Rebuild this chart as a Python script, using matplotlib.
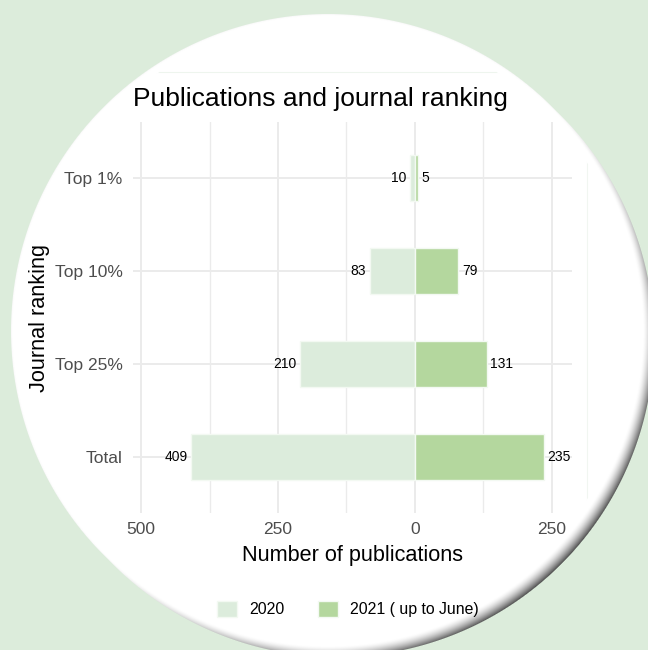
import numpy as np
import matplotlib
matplotlib.use("Agg")
import matplotlib.pyplot as plt
from matplotlib.patches import Circle

plt.rcParams['font.family'] = ['Liberation Sans', 'DejaVu Sans']

# data
rankings = ["Top 1%", "Top 10%", "Top 25%", "Total"]
pubs_2020 = [10, 83, 210, 409]
pubs_2021 = [5, 79, 131, 235]
series_names = ["2020", "2021 ( up to June)"]
x_ticks = [-500, -250, 0, 250]
x_ticklabels = ["500", "250", "0", "250"]
x_minor = [-375, -125, 125]

bg_green = "#dcecdb"
col_2020 = "#dcecdc"
col_2021 = "#b4d79e"
grid_col = "#ebebeb"

W, H = 648, 650
fig = plt.figure(figsize=(W / 100, H / 100), dpi=100)
fig.patch.set_facecolor(bg_green)

# background: white disc with a shadow to the lower right, drawn as an image
bg = fig.add_axes([0, 0, 1, 1])
bg.set_xlim(0, W)
bg.set_ylim(H, 0)
bg.axis("off")
cx, cy, r = 328, 331, 317
ox, oy = 9, 9
yy, xx = np.mgrid[0:H, 0:W] + 0.5
d1 = np.hypot(xx - cx, yy - cy)
d2 = np.hypot(xx - cx - ox, yy - cy - oy)
t = np.clip((d1 - (r - 2)) / 15.0, 0, 1) ** 1.6
shade = 1 - 0.72 * t
alpha = np.clip(np.maximum(r - d1, r - d2) + 0.5, 0, 1)
img = np.dstack([shade, shade, shade, alpha])
bg.imshow(img, extent=(0, W, H, 0), interpolation="none", zorder=0)

# faint remains of the original plot border
l1, = bg.plot([145, 500], [72, 72], color="#eef5ee", lw=0.8)
l2, = bg.plot([587, 587], [80, 520], color="#f1f6f1", lw=0.8)
clip = Circle((cx, cy), r - 8, transform=bg.transData)
l1.set_clip_path(clip)
l2.set_clip_path(clip)

# main panel
px_l, px_r, px_t, px_b = 133, 572, 122, 513
ax = fig.add_axes([px_l / W, 1 - px_b / H, (px_r - px_l) / W, (px_b - px_t) / H])
ax.set_facecolor("none")

ypos = np.arange(len(rankings))[::-1] + 1  # Total at bottom
neg = [-v for v in pubs_2020]
b1 = ax.barh(ypos, neg, height=0.5, color=col_2020, edgecolor="#f3f9f2",
             linewidth=1.0, label=series_names[0], zorder=3)
b2 = ax.barh(ypos, pubs_2021, height=0.5, color=col_2021, edgecolor="#f3f9f2",
             linewidth=1.0, label=series_names[1], zorder=3)

for y, v in zip(ypos, pubs_2020):
    ax.annotate(str(v), (-v, y), xytext=(-2.5, 0), textcoords="offset points",
                ha="right", va="center", fontsize=10, color="black", zorder=4)
for y, v in zip(ypos, pubs_2021):
    ax.annotate(str(v), (v, y), xytext=(2.5, 0), textcoords="offset points",
                ha="left", va="center", fontsize=10, color="black", zorder=4)

ax.set_xlim(-514.6, 286.5)
ax.set_ylim(0.4, 4.6)
ax.set_xticks(x_ticks)
ax.set_xticklabels(x_ticklabels)
ax.set_xticks(x_minor, minor=True)
ax.set_yticks(ypos)
ax.set_yticklabels(rankings)
ax.tick_params(axis="both", which="both", length=0, colors="#4d4d4d", labelsize=12.5)
ax.tick_params(axis="x", pad=6.3)
ax.tick_params(axis="y", pad=7.5)
ax.grid(True, which="major", color=grid_col, lw=1.4, zorder=0)
ax.grid(True, which="minor", axis="x", color=grid_col, lw=1.0, zorder=0)
for s in ax.spines.values():
    s.set_visible(False)

# titles placed in pixel coords
bg.text(133, 106, "Publications and journal ranking", fontsize=19,
        ha="left", va="baseline", color="black")
bg.text(352.5, 560.5, "Number of publications", fontsize=15.6,
        ha="center", va="baseline", color="black")
bg.text(45, 317.5, "Journal ranking", fontsize=15.6, rotation=90,
        rotation_mode="anchor", ha="center", va="baseline", color="black")

ax.legend(handles=[b1, b2], labels=series_names, loc="center",
          bbox_to_anchor=(348 / W, 1 - 609 / H), bbox_transform=fig.transFigure,
          ncol=2, frameon=False, fontsize=11.4, handlelength=1.27,
          handleheight=1.14, handletextpad=0.76, columnspacing=2.1)

fig.savefig("out.png", dpi=100, facecolor=fig.get_facecolor())
